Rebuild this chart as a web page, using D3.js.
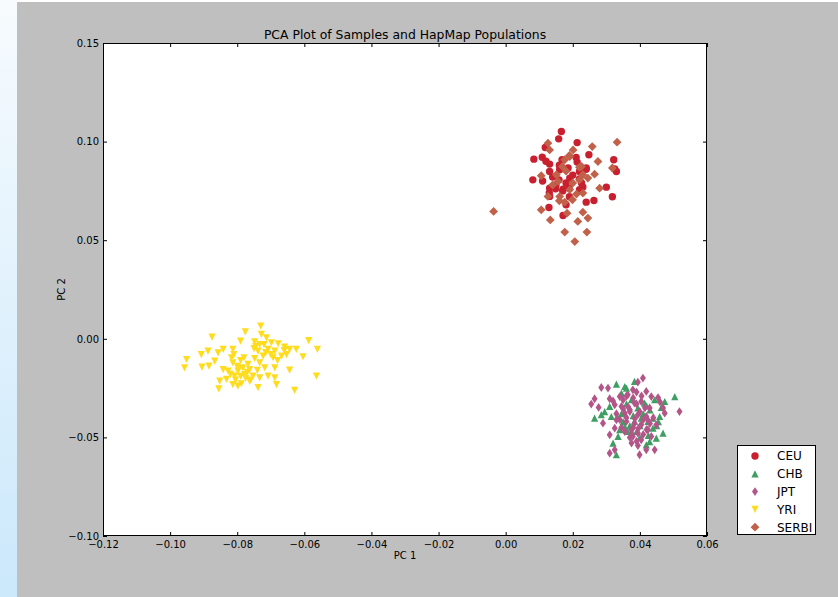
<!DOCTYPE html>
<html>
<head>
<meta charset="utf-8">
<script src="https://cdn.jsdelivr.net/npm/d3@7"></script>
<style>
  html, body { margin: 0; padding: 0; background: #bfbfbf; }
  svg { display: block; }
  text { font-family: "DejaVu Sans", sans-serif; fill: #000; }
</style>
</head>
<body>
<svg id="chart" width="838" height="597"></svg>
<script>
// PC1 / PC2 coordinates for each population
const ceu = [
  [0.0166,0.1051],[0.0158,0.1014],[0.0213,0.0995],[0.0118,0.0970],[0.0248,0.0933],
  [0.0084,0.0911],[0.0109,0.0921],[0.0131,0.0886],[0.0168,0.0908],[0.0213,0.0896],
  [0.0322,0.0908],[0.0325,0.0861],[0.0081,0.0806],[0.0131,0.0848],[0.0161,0.0857],
  [0.0186,0.0866],[0.0220,0.0848],[0.0240,0.0866],[0.0191,0.0815],[0.0159,0.0806],
  [0.0226,0.0790],[0.0131,0.0764],[0.0149,0.0761],[0.0171,0.0759],[0.0189,0.0764],
  [0.0220,0.0756],[0.0300,0.0769],[0.0131,0.0722],[0.0318,0.0720],[0.0263,0.0701],
  [0.0240,0.0693],[0.0129,0.0666],[0.0171,0.0625],[0.0330,0.0848],
  [0.0140,0.0820],[0.0180,0.0790],[0.0200,0.0830],[0.0160,0.0880],[0.0220,0.0810],
  [0.0190,0.0720],[0.0120,0.0900],[0.0210,0.0920],[0.0170,0.0750],[0.0240,0.0860],
  [0.0150,0.0780],[0.0130,0.0740],[0.0230,0.0770],[0.0180,0.0680],[0.0110,0.0800]
];

const chb = [
  [0.0504,-0.0293],[0.0384,-0.0216],[0.0330,-0.0230],[0.0360,-0.0250],[0.0345,-0.0275],
  [0.0310,-0.0343],[0.0265,-0.0402],[0.0285,-0.0385],[0.0315,-0.0394],[0.0335,-0.0402],
  [0.0355,-0.0445],[0.0340,-0.0461],[0.0335,-0.0495],[0.0320,-0.0529],[0.0330,-0.0588],
  [0.0464,-0.0348],[0.0474,-0.0318],[0.0459,-0.0394],[0.0439,-0.0402],[0.0424,-0.0419],
  [0.0444,-0.0309],[0.0414,-0.0326],[0.0394,-0.0351],[0.0469,-0.0478],[0.0449,-0.0504],
  [0.0429,-0.0521],[0.0419,-0.0538],[0.0439,-0.0453],[0.0364,-0.0470],[0.0355,-0.0242],
  [0.0375,-0.0309],[0.0295,-0.0369],[0.0404,-0.0402],[0.0384,-0.0419],
  [0.0370,-0.0440],[0.0410,-0.0380],[0.0390,-0.0470],[0.0450,-0.0440],[0.0430,-0.0360],
  [0.0400,-0.0500],[0.0350,-0.0420],[0.0380,-0.0390],[0.0420,-0.0340],[0.0455,-0.0420],
  [0.0345,-0.0380],[0.0400,-0.0440],[0.0425,-0.0490],[0.0360,-0.0330]
];

const jpt = [
  [0.0409,-0.0199],[0.0394,-0.0220],[0.0285,-0.0247],[0.0305,-0.0250],[0.0379,-0.0259],
  [0.0419,-0.0267],[0.0434,-0.0293],[0.0454,-0.0298],[0.0265,-0.0304],[0.0255,-0.0331],
  [0.0310,-0.0304],[0.0340,-0.0293],[0.0364,-0.0284],[0.0277,-0.0348],[0.0325,-0.0335],
  [0.0345,-0.0343],[0.0384,-0.0326],[0.0404,-0.0318],[0.0429,-0.0351],[0.0469,-0.0351],
  [0.0518,-0.0369],[0.0474,-0.0377],[0.0355,-0.0377],[0.0370,-0.0369],[0.0394,-0.0385],
  [0.0419,-0.0394],[0.0290,-0.0428],[0.0330,-0.0411],[0.0360,-0.0419],[0.0384,-0.0428],
  [0.0404,-0.0436],[0.0449,-0.0436],[0.0325,-0.0453],[0.0375,-0.0461],[0.0394,-0.0478],
  [0.0424,-0.0461],[0.0310,-0.0487],[0.0379,-0.0495],[0.0404,-0.0512],[0.0434,-0.0495],
  [0.0375,-0.0529],[0.0394,-0.0541],[0.0419,-0.0563],[0.0444,-0.0563],[0.0325,-0.0563],
  [0.0399,-0.0588],[0.0310,-0.0580],
  [0.0370,-0.0360],[0.0390,-0.0330],[0.0360,-0.0400],[0.0410,-0.0410],[0.0380,-0.0450],
  [0.0350,-0.0310],[0.0400,-0.0370],[0.0330,-0.0380],[0.0420,-0.0460],[0.0370,-0.0500],
  [0.0390,-0.0270],[0.0360,-0.0290],[0.0340,-0.0410],[0.0440,-0.0400],[0.0460,-0.0320],
  [0.0430,-0.0430],[0.0365,-0.0345],[0.0385,-0.0405],[0.0395,-0.0455],[0.0375,-0.0480],
  [0.0410,-0.0485],[0.0350,-0.0355],[0.0320,-0.0315],[0.0415,-0.0350],[0.0390,-0.0520],
  [0.0355,-0.0470],[0.0380,-0.0300],[0.0405,-0.0290],[0.0345,-0.0450],[0.0425,-0.0415]
];

const yri = [
  [-0.0730,0.0064],[-0.0776,0.0035],[-0.0875,0.0009],[-0.0728,0.0022],[-0.0713,0.0005],
  [-0.0790,-0.0012],[-0.0748,-0.0015],[-0.0733,-0.0029],[-0.0698,-0.0020],[-0.0678,-0.0025],
  [-0.0587,-0.0009],[-0.0561,-0.0054],[-0.0659,-0.0042],[-0.0644,-0.0054],[-0.0624,-0.0054],
  [-0.0708,-0.0054],[-0.0688,-0.0062],[-0.0738,-0.0062],[-0.0907,-0.0080],[-0.0887,-0.0062],
  [-0.0857,-0.0071],[-0.0842,-0.0054],[-0.0813,-0.0054],[-0.0817,-0.0096],[-0.0867,-0.0113],
  [-0.0951,-0.0105],[-0.0957,-0.0147],[-0.0905,-0.0144],[-0.0884,-0.0139],[-0.0780,-0.0096],
  [-0.0748,-0.0100],[-0.0723,-0.0088],[-0.0693,-0.0096],[-0.0668,-0.0088],[-0.0653,-0.0080],
  [-0.0604,-0.0091],[-0.0813,-0.0122],[-0.0768,-0.0130],[-0.0733,-0.0122],[-0.0718,-0.0147],
  [-0.0688,-0.0147],[-0.0644,-0.0159],[-0.0842,-0.0156],[-0.0827,-0.0164],[-0.0798,-0.0164],
  [-0.0783,-0.0147],[-0.0763,-0.0156],[-0.0808,-0.0189],[-0.0778,-0.0181],[-0.0753,-0.0189],
  [-0.0733,-0.0198],[-0.0708,-0.0189],[-0.0688,-0.0198],[-0.0564,-0.0189],[-0.0852,-0.0215],
  [-0.0832,-0.0206],[-0.0813,-0.0232],[-0.0788,-0.0228],[-0.0763,-0.0215],[-0.0738,-0.0248],
  [-0.0683,-0.0232],[-0.0855,-0.0254],[-0.0798,-0.0240],[-0.0629,-0.0262],
  [-0.0800,-0.0140],[-0.0770,-0.0170],[-0.0790,-0.0190],[-0.0750,-0.0050],[-0.0720,-0.0030],
  [-0.0700,-0.0080],[-0.0820,-0.0180],[-0.0760,-0.0210],[-0.0740,-0.0160],[-0.0660,-0.0060],
  [-0.0680,-0.0110],[-0.0810,-0.0080],[-0.0790,-0.0110],[-0.0775,-0.0200],[-0.0745,-0.0040],
  [-0.0715,-0.0070],[-0.0795,-0.0150],[-0.0805,-0.0210]
];

const serbi = [
  [0.0332,0.0997],[0.0126,0.0992],[0.0131,0.0958],[0.0201,0.0958],[0.0258,0.0975],
  [0.0191,0.0924],[0.0176,0.0908],[0.0275,0.0899],[0.0169,0.0874],[0.0226,0.0874],
  [0.0318,0.0866],[0.0106,0.0827],[0.0151,0.0832],[0.0230,0.0832],[0.0265,0.0835],
  [0.0245,0.0815],[0.0156,0.0798],[0.0220,0.0806],[0.0280,0.0764],[0.0191,0.0756],
  [0.0126,0.0722],[0.0161,0.0722],[0.0211,0.0734],[0.0230,0.0739],[0.0176,0.0693],
  [0.0199,0.0705],[-0.0036,0.0646],[0.0106,0.0654],[0.0183,0.0637],[0.0230,0.0642],
  [0.0133,0.0603],[0.0215,0.0595],[0.0245,0.0612],[0.0176,0.0541],[0.0242,0.0541],
  [0.0206,0.0493],
  [0.0180,0.0850],[0.0140,0.0780],[0.0200,0.0790],[0.0160,0.0700],[0.0220,0.0870],
  [0.0190,0.0930]
];

const populations = ["CEU", "CHB", "JPT", "YRI", "SERBI"];
const xTicks = [-0.12, -0.10, -0.08, -0.06, -0.04, -0.02, 0.00, 0.02, 0.04, 0.06];
const yTicks = [-0.10, -0.05, 0.00, 0.05, 0.10, 0.15];

const svg = d3.select("#chart");
const W = 838, H = 597;
const plot = { left: 103, right: 707, top: 43, bottom: 536 };

// window backdrop: light blue strip on the left, grey canvas
const defs = svg.append("defs");
const grad = defs.append("linearGradient").attr("id", "strip")
  .attr("x1", 0).attr("y1", 0).attr("x2", 0).attr("y2", 1);
grad.append("stop").attr("offset", 0).attr("stop-color", "#f7fbfe");
grad.append("stop").attr("offset", 1).attr("stop-color", "#cbe8fb");
svg.append("rect").attr("x", 0).attr("y", 0).attr("width", W).attr("height", H).attr("fill", "#ffffff");
svg.append("rect").attr("x", 0).attr("y", 0).attr("width", 17).attr("height", H).attr("fill", "url(#strip)");
svg.append("rect").attr("x", 17).attr("y", 2).attr("width", W - 17).attr("height", H - 2).attr("fill", "#bfbfbf");

const x = d3.scaleLinear().domain([-0.12, 0.06]).range([plot.left, plot.right]);
const y = d3.scaleLinear().domain([-0.10, 0.15]).range([plot.bottom, plot.top]);

// axes background
svg.append("rect")
  .attr("x", plot.left).attr("y", plot.top)
  .attr("width", plot.right - plot.left).attr("height", plot.bottom - plot.top)
  .attr("fill", "#ffffff");

// marker shapes
const triUp = r => `M0,${-r}L${-r},${r}L${r},${r}Z`;
const triDown = r => `M0,${r}L${-r},${-r}L${r},${-r}Z`;
const diamond = r => `M0,${-r}L${r},0L0,${r}L${-r},0Z`;
const thinDiamond = r => `M0,${-r}L${r * 0.68},0L0,${r}L${-r * 0.68},0Z`;
const circle = r => d3.symbol(d3.symbolCircle, Math.PI * r * r)();

const styles = {
  CEU:   { data: ceu,   color: "#c8202f", path: circle(3.7) },
  CHB:   { data: chb,   color: "#3f9e62", path: triUp(3.6) },
  JPT:   { data: jpt,   color: "#b4558a", path: thinDiamond(4.4) },
  YRI:   { data: yri,   color: "#ffdc1e", path: triDown(3.6) },
  SERBI: { data: serbi, color: "#c2614a", path: diamond(4.4) }
};

const marks = svg.append("g");
populations.forEach(name => {
  const s = styles[name];
  marks.append("g").selectAll("path")
    .data(s.data)
    .join("path")
    .attr("transform", d => `translate(${x(d[0])},${y(d[1])})`)
    .attr("d", s.path)
    .attr("fill", s.color);
});

// ticks point inward on all four sides
const fmt = d3.format(".2f");
const gx = svg.append("g").attr("transform", `translate(0,${plot.bottom})`)
  .call(d3.axisBottom(x).tickValues(xTicks).tickFormat(fmt).tickSize(-4).tickSizeOuter(0).tickPadding(5));
const gxTop = svg.append("g").attr("transform", `translate(0,${plot.top})`)
  .call(d3.axisTop(x).tickValues(xTicks).tickFormat("").tickSize(-4).tickSizeOuter(0));
const gy = svg.append("g").attr("transform", `translate(${plot.left},0)`)
  .call(d3.axisLeft(y).tickValues(yTicks).tickFormat(fmt).tickSize(-4).tickSizeOuter(0).tickPadding(4));
const gyRight = svg.append("g").attr("transform", `translate(${plot.right},0)`)
  .call(d3.axisRight(y).tickValues(yTicks).tickFormat("").tickSize(-4).tickSizeOuter(0));

[gx, gxTop, gy, gyRight].forEach(g => {
  g.select(".domain").remove();
  g.selectAll("line").attr("stroke", "#000").attr("stroke-width", 1);
  g.selectAll("text").attr("font-family", "DejaVu Sans").attr("font-size", 10).attr("fill", "#000");
});

// frame
svg.append("rect")
  .attr("x", plot.left + 0.5).attr("y", plot.top + 0.5)
  .attr("width", plot.right - plot.left - 1).attr("height", plot.bottom - plot.top - 1)
  .attr("fill", "none").attr("stroke", "#000").attr("stroke-width", 1);

// titles
svg.append("text")
  .attr("x", (plot.left + plot.right) / 2).attr("y", 39)
  .attr("text-anchor", "middle").attr("font-size", 12.4)
  .text("PCA Plot of Samples and HapMap Populations");
svg.append("text")
  .attr("x", (plot.left + plot.right) / 2).attr("y", 559)
  .attr("text-anchor", "middle").attr("font-size", 10)
  .text("PC 1");
svg.append("text")
  .attr("transform", `translate(65,${(plot.top + plot.bottom) / 2}) rotate(-90)`)
  .attr("text-anchor", "middle").attr("font-size", 10)
  .text("PC 2");

// legend
const legend = svg.append("g");
legend.append("rect")
  .attr("x", 737.5).attr("y", 445.5).attr("width", 78).attr("height", 89)
  .attr("fill", "#ffffff").attr("stroke", "#000").attr("stroke-width", 1);
populations.forEach((name, i) => {
  const cy = 456 + i * 17.8;
  legend.append("path")
    .attr("transform", `translate(755,${cy})`)
    .attr("d", styles[name].path)
    .attr("fill", styles[name].color);
  legend.append("text")
    .attr("x", 777).attr("y", cy).attr("dy", "0.36em")
    .attr("font-size", 12)
    .text(name);
});
</script>
</body>
</html>
